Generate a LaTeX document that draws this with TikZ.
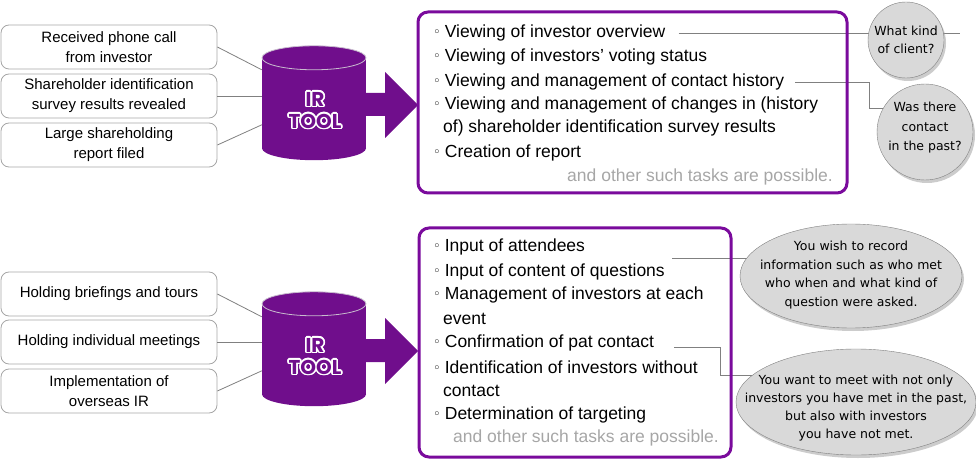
\documentclass[tikz,border=0pt]{standalone}
\usepackage{fontspec}
\setmainfont{Liberation Sans}
\newfontfamily\bubblefont{DejaVu Sans}
\newfontfamily\toolfont{Poppins}
\usepackage[copies]{contour}
\contourlength{1.6pt}
\usetikzlibrary{shapes.geometric,shadows,backgrounds}
\definecolor{irpurple}{RGB}{112,14,140}
\definecolor{boxpurple}{RGB}{122,10,156}
\definecolor{linegray}{RGB}{128,128,128}
\definecolor{framegray}{RGB}{166,166,166}
\definecolor{moregray}{RGB}{166,166,166}
\definecolor{bubblegray}{RGB}{217,217,217}
\definecolor{toprim}{RGB}{200,188,206}
\newcommand{\itm}{\raisebox{1pt}{\bubblefont\fontsize{13}{13}\selectfont ◦}\hspace{4pt}}
\newcommand{\tooltag}{\contour{white}{IR}\\\contour{white}{TOOL}}
\tikzset{
    casebox/.style={draw=framegray, line width=0.8pt, rounded corners=8pt, minimum width=216pt, minimum height=44pt, align=center, inner sep=0pt, font=\fontsize{15}{20}\selectfont},
    toolbody/.style={fill=irpurple, minimum width=104pt, minimum height=90pt, inner sep=0pt},
    tooltext/.style={align=center, text=irpurple, inner sep=0pt, font=\toolfont\bfseries\fontsize{20}{22}\selectfont},
    task/.style={right, inner sep=0pt, font=\fontsize{17.5}{24}\selectfont},
    more/.style={task, text=moregray},
    listbox/.style={draw=boxpurple, line width=3pt, rounded corners=10pt},
    bubble/.style={draw=linegray, fill=bubblegray, drop shadow={shadow xshift=2pt, shadow yshift=-3pt, fill=black!40}, inner sep=0pt},
    bubbletext/.style={align=center, inner sep=0pt, font=\bubblefont\fontsize{12.5}{18.5}\selectfont},
    link/.style={draw=linegray, line width=0.8pt},
}
\begin{document}
\begin{tikzpicture}[x=1pt, y=-1pt]
    \useasboundingbox (0,0) rectangle (976,462);
    % upper part: what happens
    \node[casebox] (case1) at (109,47) {Received phone call\\from investor};
    \node[casebox] (case2) at (109,96) {Shareholder identification\\survey results revealed};
    \node[casebox] (case3) at (109,145) {Large shareholding\\report filed};
    % upper tool
    \node[toolbody] (tool1) at (314,103) {};
    \fill[irpurple] (tool1.south) ellipse [x radius=52, y radius=12];
    \fill[irpurple] (tool1.north) ellipse [x radius=52, y radius=12];
    \draw[toprim, line width=0.8pt] (tool1.north) ellipse [x radius=52, y radius=12];
    \node[tooltext] (tag1) at (315,111) {\tooltag};
    \draw[link] (case1.east) -- ([yshift=-12pt]tool1.north west);
    \draw[link] (case2.east) -- (case2.east -| tool1.west);
    \draw[link] (case3.east) -- ([yshift=-67pt]tool1.north west);
    \fill[irpurple] (366,93) -- (385,93) -- (385,72) -- (418,105) -- (385,138) -- (385,116) -- (366,116) -- cycle;
    % upper list
    \draw[listbox] (418,12) rectangle (847,193);
    \node[task] (view1) at (433, 33) {\itm Viewing of investor overview};
    \node[task] (view2) at (433, 57) {\itm Viewing of investors’ voting status};
    \node[task] (view3) at (433, 82) {\itm Viewing and management of contact history};
    \node[task] (view4) at (433,105) {\itm Viewing and management of changes in (history};
    \node[task] (view5) at (443,128) {of) shareholder identification survey results};
    \node[task] (view6) at (433,153) {\itm Creation of report};
    \node[more, left] (more1) at (833,177) {and other such tasks are possible.};
    \node[bubble, circle, minimum size=76pt, label={[bubbletext]center:What kind\\of client?}] (ask1) at (906,40) {};
    \node[bubble, circle, minimum size=96pt, label={[bubbletext, yshift=4pt, font=\bubblefont\fontsize{12.5}{19.5}\selectfont]center:Was there\\contact\\in the past?}] (ask2) at (925,132) {};
    \coordinate (end1) at (960,33);
    \begin{scope}[on background layer]
        \draw[link] ([xshift=13pt]view1.east) -- (end1);
        \draw[link] ([xshift=11pt]view3.east) -- ++(74,0) |- ([yshift=24pt]ask2.center);
    \end{scope}
    % lower part: events
    \node[casebox] (case4) at (109,294) {Holding briefings and tours};
    \node[casebox] (case5) at (109,342) {Holding individual meetings};
    \node[casebox] (case6) at (109,391) {Implementation of\\overseas IR};
    % lower tool
    \node[toolbody] (tool2) at (314,349) {};
    \fill[irpurple] (tool2.south) ellipse [x radius=52, y radius=12];
    \fill[irpurple] (tool2.north) ellipse [x radius=52, y radius=12];
    \draw[toprim, line width=0.8pt] (tool2.north) ellipse [x radius=52, y radius=12];
    \node[tooltext] (tag2) at (315,357) {\tooltag};
    \draw[link] (case4.east) -- ([yshift=-13pt]tool2.north west);
    \draw[link] (case5.east) -- (case5.east -| tool2.west);
    \draw[link] (case6.east) -- ([yshift=-67pt]tool2.north west);
    \fill[irpurple] (366,339) -- (385,339) -- (385,318) -- (418,351) -- (385,384) -- (385,362) -- (366,362) -- cycle;
    % lower list
    \draw[listbox] (419,228) rectangle (731,457);
    \node[task] (note1) at (433,247) {\itm Input of attendees};
    \node[task] (note2) at (433,272) {\itm Input of content of questions};
    \node[task] (note3) at (433,295) {\itm Management of investors at each};
    \node[task] (note4) at (443,319) {event};
    \node[task] (note5) at (433,343) {\itm Confirmation of pat contact};
    \node[task] (note6) at (433,367) {\itm Identification of investors without};
    \node[task] (note7) at (443,391) {contact};
    \node[task] (note8) at (433,415) {\itm Determination of targeting};
    \node[more] (more2) at (453,438) {and other such tasks are possible.};
    \node[bubble, ellipse, minimum width=222pt, minimum height=104pt, label={[bubbletext, yshift=1pt]center:You wish to record\\information such as who met\\who when and what kind of\\question were asked.}] (wish1) at (851,276) {};
    \node[bubble, ellipse, minimum width=240pt, minimum height=106pt, label={[bubbletext, yshift=-6pt, font=\bubblefont\fontsize{12.5}{17.7}\selectfont]center:You want to meet with not only\\investors you have met in the past,\\but also with investors\\you have not met.}] (wish2) at (856,402) {};
    \coordinate (from1) at (672,258);
    \coordinate (from2) at (674,347);
    \begin{scope}[on background layer]
        \draw[link] (from1) -- (from1 -| wish1.center);
        \draw[link] (from2) -- ++(46,0) |- ([yshift=27pt]wish2.center);
    \end{scope}
\end{tikzpicture}
\end{document}
